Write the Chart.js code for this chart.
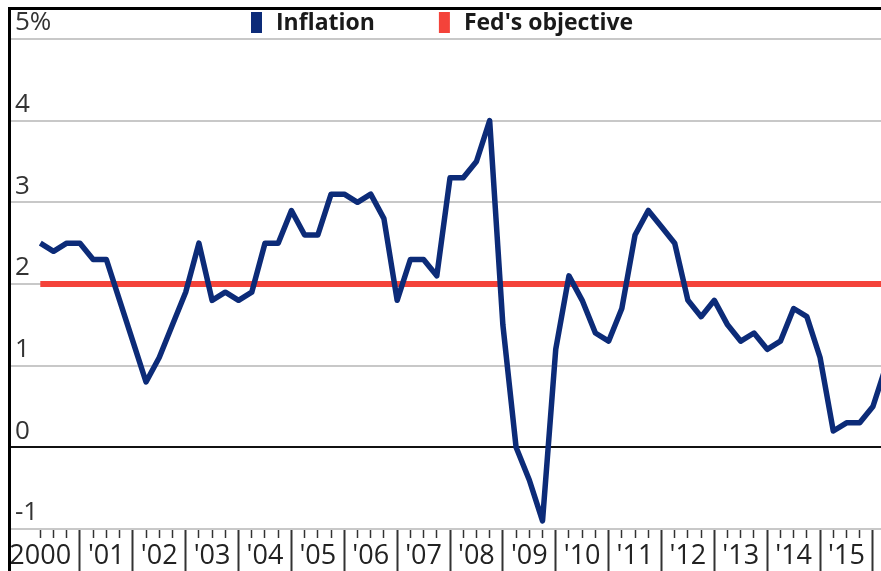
<!DOCTYPE html>
<html>
<head>
<meta charset="utf-8">
<script src="https://cdn.jsdelivr.net/npm/chart.js@4"></script>
<style>
  html, body { margin: 0; padding: 0; background: #fff; }
  #wrap { position: relative; width: 881px; height: 571px; }
  #frame { position: absolute; left: 8px; top: 7px; right: 0; bottom: 0;
           border-left: 3px solid #000; border-top: 3px solid #000; pointer-events: none; }
</style>
</head>
<body>
<div id="wrap">
  <canvas id="chart" width="881" height="571"></canvas>
  <div id="frame"></div>
</div>
<script>
// quarterly inflation, % a year, 2000 Q1 .. 2016 Q1
const inflation = [
  2.5, 2.4, 2.5, 2.5,   2.3, 2.3, 1.8, 1.3,   0.8, 1.1, 1.5, 1.9,   2.5, 1.8, 1.9, 1.8,
  1.9, 2.5, 2.5, 2.9,   2.6, 2.6, 3.1, 3.1,   3.0, 3.1, 2.8, 1.8,   2.3, 2.3, 2.1, 3.3,
  3.3, 3.5, 4.0, 1.5,   0.0, -0.4, -0.9, 1.2, 2.1, 1.8, 1.4, 1.3,   1.7, 2.6, 2.9, 2.7,
  2.5, 1.8, 1.6, 1.8,   1.5, 1.3, 1.4, 1.2,   1.3, 1.7, 1.6, 1.1,   0.2, 0.3, 0.3, 0.5,
  1.0
];
const fedObjective = 2;
const yearLabels = ["2000", "'01", "'02", "'03", "'04", "'05", "'06", "'07",
                    "'08", "'09", "'10", "'11", "'12", "'13", "'14", "'15"];
const seriesNames = ['Inflation', "Fed's objective"];

const NAVY = '#0c2b78';
const RED = '#f4433a';

// little key drawn in the top strip
const keyPlugin = {
  id: 'key',
  afterDraw(chart) {
    const ctx = chart.ctx;
    ctx.save();
    ctx.font = 'bold 23px "Open Sans"';
    ctx.textBaseline = 'middle';
    let x = 251;
    chart.data.datasets.forEach(ds => {
      ctx.fillStyle = ds.borderColor;
      ctx.fillRect(x, 12, 11, 21);
      x += 11 + 14;
      ctx.fillStyle = '#1a1a1a';
      ctx.fillText(ds.label, x, 23);
      x += ctx.measureText(ds.label).width + 64;
    });
    ctx.restore();
  }
};

const lastQ = inflation.length - 1;

new Chart(document.getElementById('chart'), {
  type: 'line',
  data: {
    datasets: [
      {
        label: seriesNames[0],
        data: inflation.map((v, i) => ({ x: i, y: v })),
        borderColor: NAVY,
        borderWidth: 5.5,
        borderJoinStyle: 'round',
        pointRadius: 0,
        tension: 0
      },
      {
        label: seriesNames[1],
        data: [{ x: 0, y: fedObjective }, { x: lastQ, y: fedObjective }],
        borderColor: RED,
        borderWidth: 6,
        pointRadius: 0
      }
    ]
  },
  options: {
    responsive: false,
    animation: false,
    devicePixelRatio: 1,
    layout: { padding: { left: 3, top: 39, right: 0, bottom: 0 } },
    plugins: { legend: { display: false }, tooltip: { enabled: false } },
    scales: {
      x: {
        type: 'linear',
        min: -2.217,
        max: 63.61,
        border: { display: true, color: '#c8c8c8', width: 2 },
        afterBuildTicks: scale => {
          const t = [{ value: -2.95 }];
          for (let i = 0; i <= 63; i++) t.push({ value: i });
          scale.ticks = t;
        },
        afterFit: scale => { scale.height = 42; },
        grid: {
          drawOnChartArea: false,
          drawTicks: true,
          tickLength: 42,
          tickColor: c => (c.tick && c.tick.value < 0) ? 'rgba(0,0,0,0)' : '#333',
          tickWidth: c => (c.tick && c.tick.value % 4 === 3) ? 2 : 1.5,
          tickBorderDash: c => (c.tick && c.tick.value % 4 === 3) ? [] : [8, 200]
        },
        ticks: {
          autoSkip: false,
          maxRotation: 0,
          minRotation: 0,
          align: 'start',
          labelOffset: 8,
          padding: -31,
          color: '#222',
          font: { family: 'Open Sans', size: 27 },
          callback: v => {
            if (v < 0) return yearLabels[0];
            if (v % 4 === 3) return yearLabels[(v + 1) / 4] || '';
            return '';
          }
        }
      },
      y: {
        min: -1,
        max: 5,
        border: { display: false },
        grid: {
          drawTicks: false,
          lineWidth: 2,
          color: c => (c.tick && c.tick.value === 0) ? '#111' : '#c8c8c8'
        },
        ticks: {
          stepSize: 1,
          mirror: true,
          padding: 4,
          labelOffset: -16,
          color: '#333',
          font: { family: 'Open Sans', size: 26 },
          callback: v => v === 5 ? '5%' : String(v)
        }
      }
    }
  },
  plugins: [keyPlugin]
});
</script>
</body>
</html>
